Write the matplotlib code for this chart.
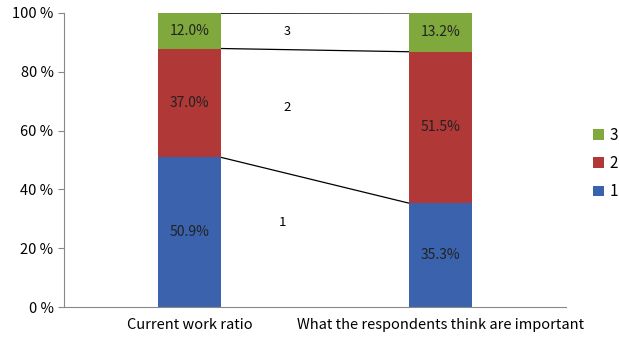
import matplotlib.pyplot as plt
import numpy as np

categories = ['Current work ratio', 'What the respondents think are important']
series_names = ['1', '2', '3']
values_1 = [50.9, 35.3]
values_2 = [37.0, 51.5]
values_3 = [12.0, 13.2]
colors = ['#3A62AD', '#B03836', '#80A93D']

plt.rcParams['font.family'] = ['Noto Sans CJK KR', 'DejaVu Sans']

fig = plt.figure(figsize=(6.19, 3.40), dpi=100)
ax = fig.add_axes([0.1034, 0.097, 0.811, 0.865])

x = np.arange(len(categories))
width = 0.25
stack = [values_1, values_2, values_3]
bottom = np.zeros(len(categories))
for name, vals, col in zip(series_names, stack, colors):
    ax.bar(x, vals, width, bottom=bottom, color=col, label=name, zorder=2)
    for xi, v, b0 in zip(x, vals, bottom):
        ax.text(xi, b0 + v / 2, f'{v:.1f}%', ha='center', va='center',
                fontsize=10, color='#222222', zorder=3)
    bottom = bottom + np.array(vals)
    # series line between the tops of the segments
    ax.plot([x[0] + width / 2, x[1] - width / 2], [bottom[0], bottom[1]],
            color='black', lw=0.9, zorder=1)

# series names placed in the gap between the bars
ax.text(0.39, 93.8, '3', ha='center', va='center', fontsize=9)
ax.text(0.39, 67.7, '2', ha='center', va='center', fontsize=9.5)
ax.text(0.37, 28.9, '1', ha='center', va='center', fontsize=9.5)

ax.set_xlim(-0.5, 1.5)
ax.set_ylim(0, 100)
ax.set_yticks(range(0, 101, 20))
ax.set_yticklabels([f'{t} %' for t in range(0, 101, 20)])
ax.set_xticks(x)
ax.set_xticklabels(categories)
ax.tick_params(axis='x', length=0, pad=8, labelsize=10.5)
ax.tick_params(axis='y', length=4, color='#888888', labelsize=10.5)

for side in ['top', 'right']:
    ax.spines[side].set_visible(False)
for side in ['left', 'bottom']:
    ax.spines[side].set_color('#888888')

handles, labels = ax.get_legend_handles_labels()
ax.legend(handles[::-1], labels[::-1], loc='center left', bbox_to_anchor=(1.054, 0.488),
          frameon=False, borderpad=0, borderaxespad=0,
          handlelength=0.7, handleheight=0.7, handletextpad=0.35,
          labelspacing=0.75, fontsize=11)

fig.savefig('out.png', dpi=100)
